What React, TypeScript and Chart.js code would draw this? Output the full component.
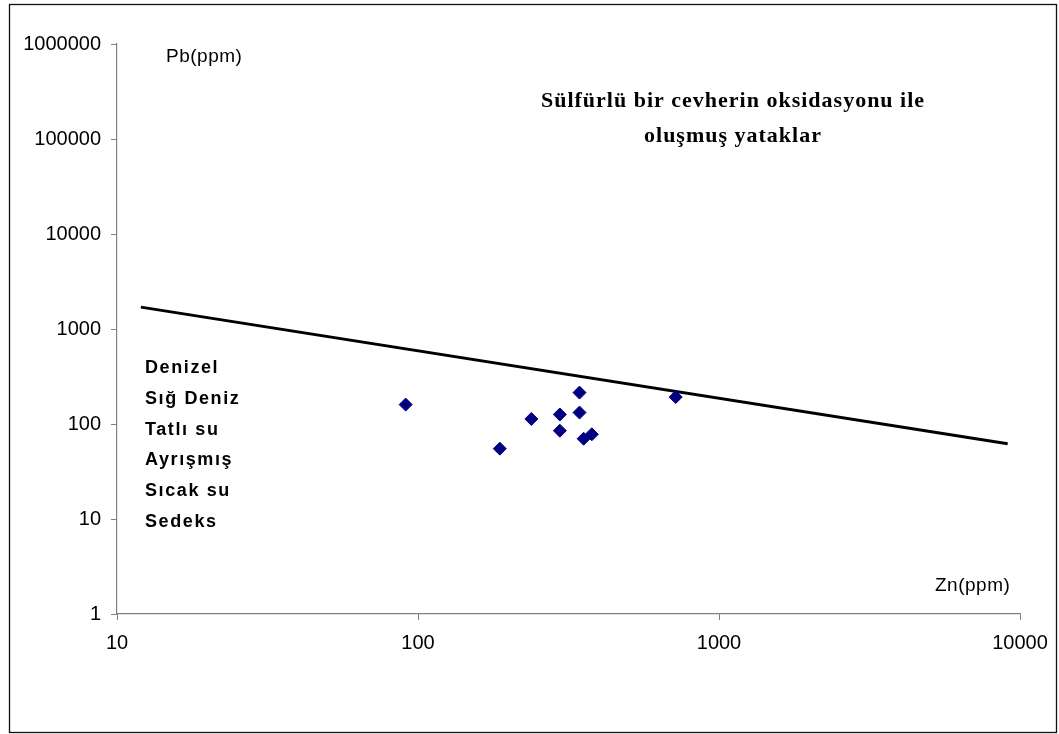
import React, { useEffect, useRef } from "react";
import { Chart, registerables } from "chart.js";

Chart.register(...registerables);

// Data
const znValues = [91, 187, 238, 296, 296, 344, 344, 355, 378, 718];
const pbValues = [160, 55, 113, 126, 85, 214, 132, 70, 78, 192];
const boundaryZn = [12, 9100];
const boundaryPb = [1700, 62];
const xTicks = [10, 100, 1000, 10000];
const yTicks = [1, 10, 100, 1000, 10000, 100000, 1000000];
const leftLabels = ["Denizel", "Sığ Deniz", "Tatlı su", "Ayrışmış", "Sıcak su", "Sedeks"];
const titleLines = ["Sülfürlü bir cevherin oksidasyonu ile", "oluşmuş yataklar"];
const xAxisLabel = "Zn(ppm)";
const yAxisLabel = "Pb(ppm)";

const W = 1059;
const H = 734;

const annotationPlugin = {
  id: "annotations",
  afterDraw(chart: any) {
    const ctx = chart.ctx as CanvasRenderingContext2D;
    ctx.save();
    // outer border
    ctx.strokeStyle = "#111";
    ctx.lineWidth = 1.3;
    ctx.strokeRect(9.5, 4.5, 1047, 728);

    ctx.fillStyle = "#000";
    ctx.textBaseline = "middle";
    (ctx as any).letterSpacing = "0.5px";
    ctx.font = '19px "Liberation Sans", Arial, sans-serif';
    ctx.textAlign = "left";
    ctx.fillText(yAxisLabel, 166, 57);
    ctx.fillText(xAxisLabel, 935, 586);

    (ctx as any).letterSpacing = "1px";
    ctx.font = 'bold 22px "Liberation Serif", "Times New Roman", serif';
    ctx.textAlign = "center";
    ctx.fillText(titleLines[0], 733, 101);
    ctx.fillText(titleLines[1], 733, 136);

    (ctx as any).letterSpacing = "1.6px";
    ctx.font = 'bold 18px "Liberation Sans", Arial, sans-serif';
    ctx.textAlign = "left";
    leftLabels.forEach((t, i) => {
      ctx.fillText(t, 145, 368 + i * 30.8);
    });
    ctx.restore();
  },
};

export default function App() {
  const ref = useRef<HTMLCanvasElement>(null);
  useEffect(() => {
    if (!ref.current) return;
    const chart = new Chart(ref.current, {
      type: "scatter",
      data: {
        datasets: [
          {
            label: "samples",
            data: znValues.map((x, i) => ({ x, y: pbValues[i] })),
            pointStyle: "rectRot",
            pointRadius: 6.5,
            backgroundColor: "#000080",
            borderColor: "#000080",
            borderWidth: 1,
          },
          {
            label: "boundary",
            type: "line",
            data: boundaryZn.map((x, i) => ({ x, y: boundaryPb[i] })),
            borderColor: "#000",
            borderWidth: 3,
            pointRadius: 0,
            showLine: true,
            fill: false,
          } as any,
        ],
      },
      options: {
        responsive: false,
        animation: false,
        events: [],
        layout: { padding: { top: 44, right: 39, left: 0, bottom: 0 } },
        plugins: {
          legend: { display: false },
          tooltip: { enabled: false },
          title: { display: false },
        },
        scales: {
          x: {
            type: "logarithmic",
            min: 10,
            max: 10000,
            position: "bottom",
            afterBuildTicks: (s: any) => {
              s.ticks = xTicks.map((v) => ({ value: v }));
            },
            afterFit: (s: any) => {
              s.height = 120;
            },
            ticks: {
              callback: (v: any) => String(v),
              color: "#000",
              font: { family: '"Liberation Sans", Arial, sans-serif', size: 20 },
              padding: 11,
              maxRotation: 0,
              autoSkip: false,
            },
            grid: { drawOnChartArea: false, drawTicks: true, tickLength: 6, color: "#808080" },
            border: { display: true, color: "#808080", width: 1.2 },
          },
          y: {
            type: "logarithmic",
            min: 1,
            max: 1000000,
            afterBuildTicks: (s: any) => {
              s.ticks = yTicks.map((v) => ({ value: v }));
            },
            afterFit: (s: any) => {
              s.width = 117;
            },
            ticks: {
              callback: (v: any) => String(v),
              color: "#000",
              font: { family: '"Liberation Sans", Arial, sans-serif', size: 20 },
              padding: 10,
              autoSkip: false,
            },
            grid: { drawOnChartArea: false, drawTicks: true, tickLength: 6, color: "#808080" },
            border: { display: true, color: "#808080", width: 1.2 },
          },
        },
      },
      plugins: [annotationPlugin],
    });
    return () => chart.destroy();
  }, []);
  return (
    <div style={{ position: "absolute", left: 0, top: 0, width: W, height: H, background: "#fff" }}>
      <canvas ref={ref} width={W} height={H} style={{ display: "block", width: W, height: H }} />
    </div>
  );
}
